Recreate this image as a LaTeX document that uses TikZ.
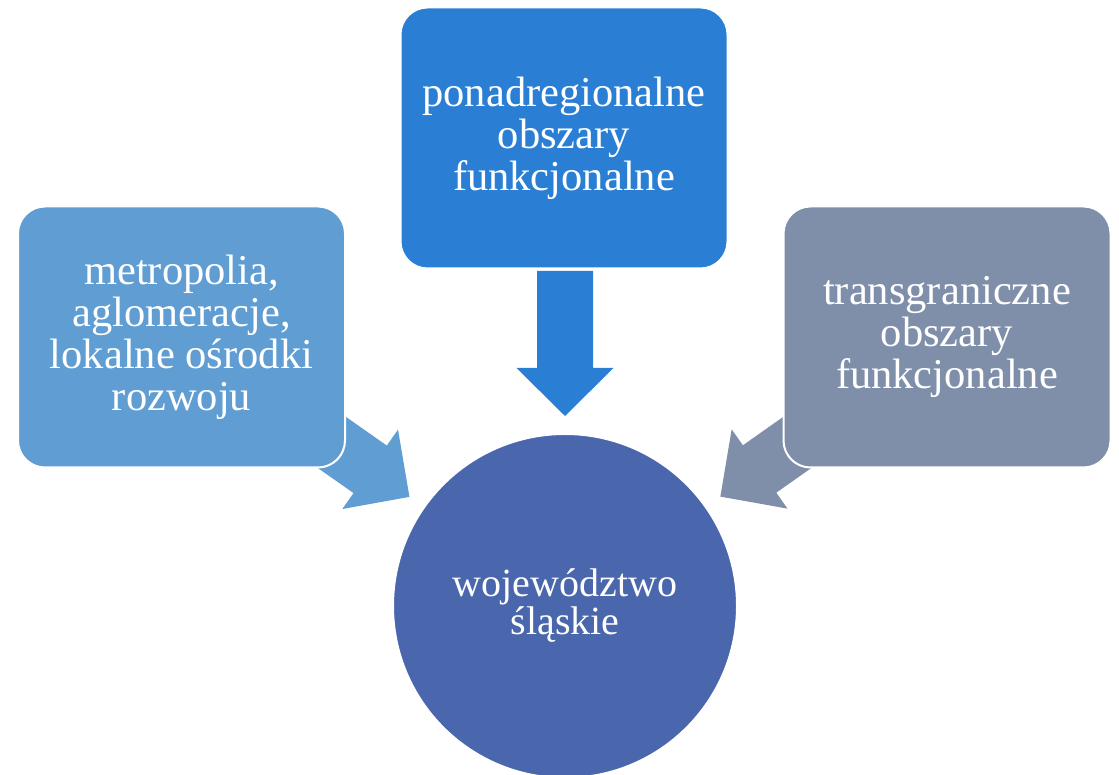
\documentclass[tikz,border=0pt]{standalone}
\usepackage{fontspec}
\setmainfont{Liberation Serif}
\definecolor{topc}{RGB}{42,127,213}
\definecolor{leftc}{RGB}{95,157,210}
\definecolor{rightc}{RGB}{127,143,170}
\definecolor{circc}{RGB}{74,102,172}
\begin{document}
\begin{tikzpicture}[x=1pt,y=1pt,
  box/.style={rounded corners=27pt, minimum width=327pt, minimum height=261pt,
    draw=white, line width=2pt, text=white, align=center, inner sep=0pt,
    font=\fontsize{42.5}{42}\selectfont},
  hub/.style={circle, minimum size=344pt, draw=white, line width=2pt, fill=circc,
    text=white, align=center, inner sep=0pt, font=\fontsize{40}{38}\selectfont}]
\useasboundingbox (0,0) rectangle (1119,775);
\coordinate (cc) at (565,169);
% block arrows (drawn beneath the boxes)
\begin{scope}[shift={(cc)}, rotate=90]
  \fill[topc] (190,0) -- (238,48.5) -- (238,28) -- (335,28) -- (335,-28) -- (238,-28) -- (238,-48.5) -- cycle;
\end{scope}
\begin{scope}[shift={(cc)}, rotate=144.95]
  \fill[leftc] (190,0) -- (238,48.5) -- (238,29) -- (345,29) -- (345,-29) -- (238,-29) -- (238,-48.5) -- cycle;
\end{scope}
\begin{scope}[shift={(cc)}, rotate=35.15]
  \fill[rightc] (190,0) -- (238,48.5) -- (238,29) -- (345,29) -- (345,-29) -- (238,-29) -- (238,-48.5) -- cycle;
\end{scope}
\node[hub] (c) at (cc) {województwo\\śląskie};
\node[box, fill=topc] (t) at (564,637) {ponadregionalne\\obszary\\funkcjonalne};
\node[box, fill=leftc] (l) at (181.5,438) {metropolia,\\aglomeracje,\\lokalne ośrodki\\rozwoju};
\node[box, fill=rightc] (r) at (947,438) {transgraniczne\\obszary\\funkcjonalne};
\end{tikzpicture}
\end{document}
